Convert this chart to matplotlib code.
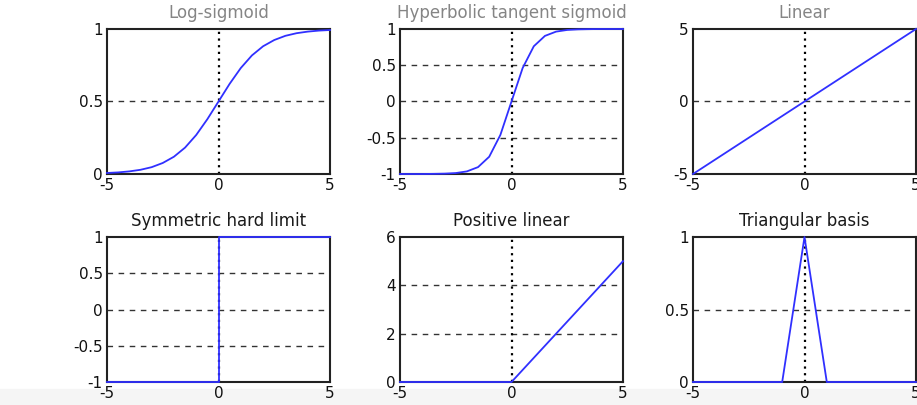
'''
Transfer functions used in neural networks, six panels in a 2x3 grid
'''
import numpy as np
import matplotlib
matplotlib.use("Agg")
import matplotlib.pyplot as plt
from matplotlib.patches import Rectangle

plt.rcParams['font.family'] = ['DejaVu Sans']

xs = [-5.0, -4.5, -4.0, -3.5, -3.0, -2.5, -2.0, -1.5, -1.0, -0.5, 0.0,
      0.5, 1.0, 1.5, 2.0, 2.5, 3.0, 3.5, 4.0, 4.5, 5.0]
logsig = [0.007, 0.011, 0.018, 0.029, 0.047, 0.076, 0.119, 0.182, 0.269, 0.378, 0.5,
          0.622, 0.731, 0.818, 0.881, 0.924, 0.953, 0.971, 0.982, 0.989, 0.993]
tansig = [-1.0, -1.0, -1.0, -0.998, -0.995, -0.987, -0.964, -0.905, -0.762, -0.462, 0.0,
          0.462, 0.762, 0.905, 0.964, 0.987, 0.995, 0.998, 1.0, 1.0, 1.0]
lin_x = [-5, 5]
lin_y = [-5, 5]
hard_x = [-5, 0, 0, 5]
hard_y = [-1, -1, 1, 1]
poslin_x = [-5, 0, 5]
poslin_y = [0, 0, 5]
tri_x = [-5, -1, 0, 1, 5]
tri_y = [0, 0, 1, 0, 0]

titles = ["Log-sigmoid", "Hyperbolic tangent sigmoid", "Linear",
          "Symmetric hard limit", "Positive linear", "Triangular basis"]
series = [(xs, logsig), (xs, tansig), (lin_x, lin_y),
          (hard_x, hard_y), (poslin_x, poslin_y), (tri_x, tri_y)]
ylims = [(0, 1), (-1, 1), (-5, 5), (-1, 1), (0, 6), (0, 1)]
yticks = [[0, 0.5, 1], [-1, -0.5, 0, 0.5, 1], [-5, 0, 5],
          [-1, -0.5, 0, 0.5, 1], [0, 2, 4, 6], [0, 0.5, 1]]
ylabels = [["0", "0.5", "1"], ["-1", "-0.5", "0", "0.5", "1"], ["-5", "0", "5"],
           ["-1", "-0.5", "0", "0.5", "1"], ["0", "2", "4", "6"], ["0", "0.5", "1"]]
title_colors = ["#858585", "#858585", "#858585", "#1a1a1a", "#1a1a1a", "#1a1a1a"]

fig = plt.figure(figsize=(9.17, 4.05), dpi=100)
# faint grey band along the bottom edge, as in the scanned original
fig.patches.append(Rectangle((0, 0), 1, 16/405., transform=fig.transFigure,
                             color='#f5f5f5', zorder=-5))

lefts = [107/917., 400/917., 693/917.]
bottoms = [1 - 174/405., 1 - 382/405.]
w = 223/917.
h = 145/405.

for k in range(6):
    row, col = divmod(k, 3)
    ax = fig.add_axes([lefts[col], bottoms[row], w, h])
    ax.set_zorder(1)
    x, y = series[k]
    lo, hi = ylims[k]
    # dashed grid at inner y ticks, dotted line at x = 0
    for t in yticks[k][1:-1]:
        ax.axhline(t, color='#333333', ls=(0, (4, 4)), lw=1.0, zorder=1)
    ax.axvline(0, color='black', ls=(0, (1, 2)), lw=1.6, zorder=1)
    ax.plot(x, y, color='#3030ff', lw=1.3, zorder=3, clip_on=False)
    ax.set_xlim(-5, 5)
    ax.set_ylim(lo, hi)
    ax.set_xticks([-5, 0, 5])
    ax.set_xticklabels(["-5", "0", "5"])
    ax.set_yticks(yticks[k])
    ax.set_yticklabels(ylabels[k])
    ax.tick_params(length=0, labelsize=11, pad=3, colors='#111111')
    for s in ax.spines.values():
        s.set_linewidth(1.5)
        s.set_color('#222222')
        s.set_zorder(2)
    ax.set_title(titles[k], fontsize=12, color=title_colors[k], pad=8)

fig.savefig("out.png", dpi=100)
plt.close()
